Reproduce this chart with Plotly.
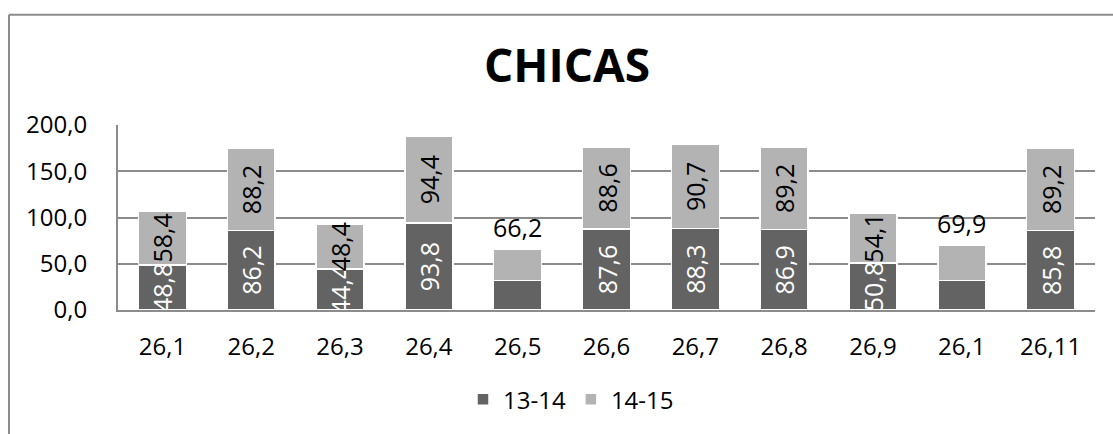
import plotly.graph_objects as go

# Chart data
categories = ["26,1", "26,2", "26,3", "26,4", "26,5", "26,6", "26,7", "26,8", "26,9", "26,1", "26,11"]
serie_13_14 = [48.8, 86.2, 44.4, 93.8, 32.0, 87.6, 88.3, 86.9, 50.8, 32.0, 85.8]
serie_14_15 = [58.4, 88.2, 48.4, 94.4, 34.2, 88.6, 90.7, 89.2, 54.1, 37.9, 89.2]
# bars whose only label is the stacked total, written above the bar
total_label = [False, False, False, False, True, False, False, False, False, True, False]
y_ticks = [0, 50, 100, 150, 200]
y_tick_labels = ["0,0", "50,0", "100,0", "150,0", "200,0"]
series_names = ["13-14", "14-15"]
title = "CHICAS"

FONT = "Open Sans"
DARK = "#636363"
LIGHT = "#b3b3b3"
GRID = "#8c8c8c"


def fmt(v):
    return f"{v:.1f}".replace(".", ",")


x = list(range(len(categories)))
text_dark = ["" if t else fmt(v) for v, t in zip(serie_13_14, total_label)]
text_light = ["" if t else fmt(v) for v, t in zip(serie_14_15, total_label)]

fig = go.Figure()
fig.add_trace(go.Bar(
    x=x, y=serie_13_14, name=series_names[0],
    marker=dict(color=DARK, line=dict(color="white", width=1.5)),
    text=text_dark, textposition="inside", textangle=-90,
    insidetextanchor="middle", constraintext="none",
    textfont=dict(family=FONT, size=25, color="white"),
))
fig.add_trace(go.Bar(
    x=x, y=serie_14_15, name=series_names[1],
    marker=dict(color=LIGHT, line=dict(color="white", width=1.5)),
    text=text_light, textposition="inside", textangle=-90,
    insidetextanchor="middle", constraintext="none",
    textfont=dict(family=FONT, size=25, color="black"),
))

# Totals written above the bars that carry no segment labels
for xi, a, b, t in zip(x, serie_13_14, serie_14_15, total_label):
    if t:
        fig.add_annotation(
            x=xi, y=a + b, text=fmt(a + b), showarrow=False,
            yanchor="bottom", yshift=3,
            font=dict(family=FONT, size=25, color="black"),
        )

# Outer chart frame (left and top edges)
fig.add_shape(type="line", xref="paper", yref="paper",
              x0=(9 - 118) / 977, x1=(9 - 118) / 977,
              y0=(313 - 13) / 188, y1=(313 - 460) / 188,
              line=dict(color=GRID, width=2))
fig.add_shape(type="line", xref="paper", yref="paper",
              x0=(9 - 118) / 977, x1=(1130 - 118) / 977,
              y0=(313 - 13) / 188, y1=(313 - 13) / 188,
              line=dict(color=GRID, width=2))

fig.update_layout(
    width=1113, height=434,
    margin=dict(l=118, r=18, t=125, b=121),
    paper_bgcolor="white", plot_bgcolor="white",
    barmode="stack", bargap=0.46,
    font=dict(family=FONT, size=24, color="black"),
    title=dict(text=f"<b>{title}</b>", x=(567 - 118) / 977, xref="paper",
               xanchor="center", y=1 - 66 / 434, yref="container",
               yanchor="middle", font=dict(family=FONT, size=46, color="black")),
    showlegend=True,
    legend=dict(orientation="h", x=(571 - 118) / 977, xanchor="center",
                y=(313 - 404) / 188, yanchor="middle",
                font=dict(family=FONT, size=24, color="black"),
                traceorder="normal"),
    xaxis=dict(
        tickmode="array", tickvals=x, ticktext=categories,
        range=[-0.5, len(categories) - 0.5],
        showline=True, linecolor=GRID, linewidth=2,
        showgrid=False, ticks="", ticklabelstandoff=14,
        tickfont=dict(family=FONT, size=24, color="black"),
    ),
    yaxis=dict(
        range=[0, 200], tickmode="array", tickvals=y_ticks, ticktext=y_tick_labels,
        showline=True, linecolor=GRID, linewidth=2,
        showgrid=True, gridcolor=GRID, gridwidth=1.5, zeroline=False,
        ticks="", ticklabelstandoff=24,
        tickfont=dict(family=FONT, size=24, color="black"),
    ),
)

fig.write_html("out.html")
